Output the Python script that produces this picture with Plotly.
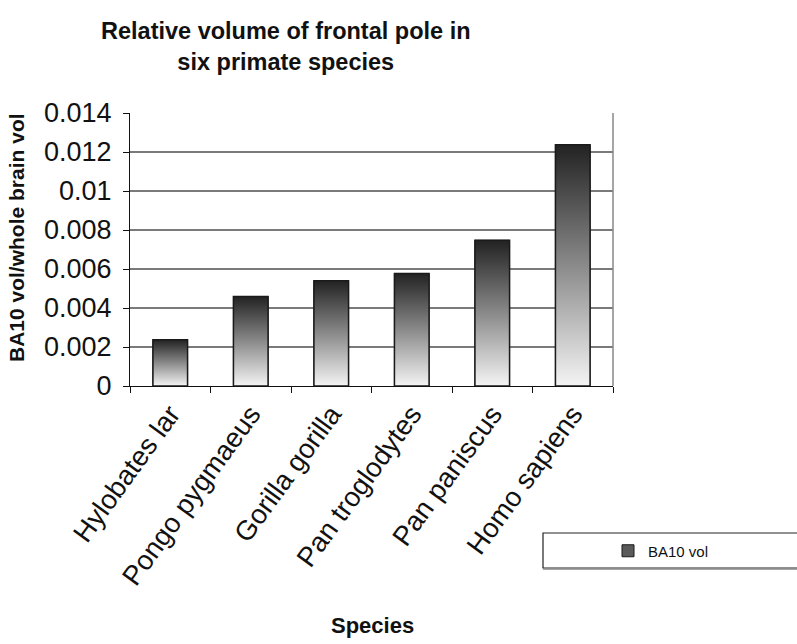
import plotly.graph_objects as go

species = ["Hylobates lar", "Pongo pygmaeus", "Gorilla gorilla",
           "Pan troglodytes", "Pan paniscus", "Homo sapiens"]
ratio = [0.00237, 0.00459, 0.0054, 0.00577, 0.00747, 0.01237]
series_name = "BA10 vol"
y_ticks = [0, 0.002, 0.004, 0.006, 0.008, 0.01, 0.012, 0.014]
y_ticktext = ["0", "0.002", "0.004", "0.006", "0.008", "0.01", "0.012", "0.014"]

FONT = "Liberation Sans, Arial, sans-serif"
BAR_W = 0.43
GRAD = [[0, "#f4f4f4"], [0.5, "#8a8a8a"], [1, "#222222"]]

# plot-area pixel geometry (for paper-coordinate conversions)
L, R, T, B = 130, 613, 113, 386
W, H = R - L, B - T
px = lambda x: (x - L) / W
py = lambda y: (B - y) / H

fig = go.Figure()

# data carrier on the category axis (labels / legend)
fig.add_trace(go.Bar(
    x=species, y=ratio, width=BAR_W, name=series_name,
    marker=dict(color="#5a5a5a", line=dict(color="#1a1a1a", width=1)),
    showlegend=True, hoverinfo="skip",
))

# gradient-filled bars on an overlaid numeric axis (same scale)
for i, v in enumerate(ratio):
    x0, x1 = i - BAR_W / 2, i + BAR_W / 2
    fig.add_trace(go.Scatter(
        x=[x0, x0, x1, x1, x0], y=[0, v, v, 0, 0],
        xaxis="x2", yaxis="y", mode="lines", fill="toself",
        fillgradient=dict(type="vertical", colorscale=GRAD, start=0, stop=v),
        line=dict(color="#1a1a1a", width=1.5),
        showlegend=False, hoverinfo="skip",
    ))

fig.update_layout(
    width=797, height=644,
    margin=dict(l=L, r=797 - R, t=T, b=644 - B),
    paper_bgcolor="white", plot_bgcolor="white",
    font=dict(family=FONT, color="#111111"),
    xaxis=dict(
        type="category", range=[-0.5, 5.5], tickson="boundaries",
        ticks="outside", ticklen=6, tickcolor="#111", tickwidth=1,
        showline=True, linecolor="#111", linewidth=1,
        showgrid=False, tickangle=-54,
        tickfont=dict(size=27.5, family=FONT, color="#111"),
    ),
    xaxis2=dict(overlaying="x", range=[-0.5, 5.5], visible=False),
    yaxis=dict(
        range=[0, 0.014], tickvals=y_ticks, ticktext=y_ticktext,
        ticks="outside", ticklen=6, tickcolor="#111", tickwidth=1,
        ticklabelstandoff=6,
        showline=True, linecolor="#111", linewidth=1,
        showgrid=True, gridcolor="#7a7a7a", gridwidth=1.5,
        tickfont=dict(size=27, family=FONT, color="#111"),
        zeroline=False,
    ),
    showlegend=True,
    legend=dict(
        x=px(608), y=py(551), xanchor="left", yanchor="middle",
        bgcolor="rgba(0,0,0,0)", borderwidth=0,
        font=dict(size=15, family=FONT, color="#111"),
    ),
    annotations=[
        dict(text="<b>Relative volume of frontal pole in<br>six primate species</b>",
             xref="paper", yref="paper", x=px(286), y=py(47),
             xanchor="center", yanchor="middle", showarrow=False,
             font=dict(size=23.5, family=FONT, color="#111")),
        dict(text="<b>BA10 vol/whole brain vol</b>", textangle=-90,
             xref="paper", yref="paper", x=px(16), y=py(238),
             xanchor="center", yanchor="middle", showarrow=False,
             font=dict(size=21, family=FONT, color="#111")),
        dict(text="<b>Species</b>",
             xref="paper", yref="paper", x=px(372), y=py(625),
             xanchor="center", yanchor="middle", showarrow=False,
             font=dict(size=22, family=FONT, color="#111")),
    ],
)

# legend frame (extends past the right edge as in the reference)
fig.add_shape(type="rect", xref="paper", yref="paper",
              x0=px(543), x1=px(820), y0=py(533), y1=py(568),
              line=dict(color="#222", width=1.2), fillcolor="rgba(0,0,0,0)")
fig.add_shape(type="line", xref="paper", yref="paper",
              x0=px(543), x1=px(820), y0=py(569), y1=py(569),
              line=dict(color="#888", width=1.5))
# right border of plot area
fig.add_shape(type="line", xref="paper", yref="paper", x0=1, x1=1, y0=0, y1=1,
              line=dict(color="#888", width=1.5))

fig.write_html("out.html")
